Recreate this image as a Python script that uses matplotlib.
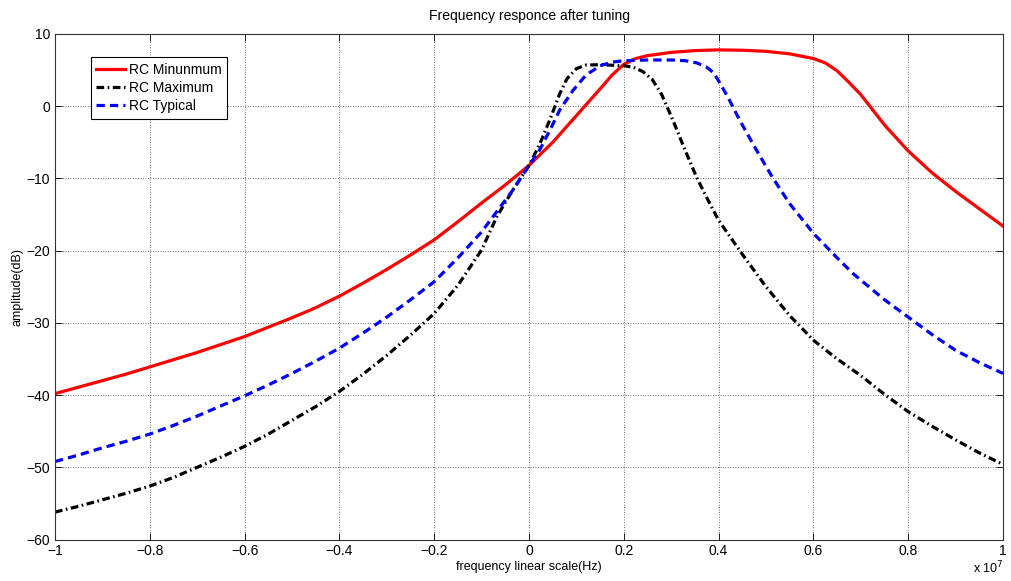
import numpy as np
import matplotlib.pyplot as plt

plt.rcParams['font.family'] = ['Liberation Sans', 'DejaVu Sans']

# frequency in units of 1e7 Hz, amplitude in dB
freq_min = [-1.0, -0.95, -0.9, -0.85, -0.8, -0.75, -0.7, -0.65, -0.6, -0.55, -0.5, -0.45,
            -0.4, -0.35, -0.3, -0.25, -0.2, -0.15, -0.1, -0.05, 0.0, 0.05, 0.1, 0.15,
            0.175, 0.2, 0.225, 0.25, 0.3, 0.35, 0.4, 0.45, 0.5, 0.55, 0.6, 0.625,
            0.65, 0.675, 0.7, 0.75, 0.8, 0.85, 0.9, 0.95, 1.0]
amp_min = [-39.8, -38.9, -38.0, -37.1, -36.1, -35.1, -34.1, -33.0, -31.9, -30.6, -29.3, -27.9,
           -26.3, -24.5, -22.6, -20.6, -18.5, -16.0, -13.4, -10.9, -8.2, -5.0, -1.3, 2.4,
           4.3, 5.8, 6.6, 7.0, 7.45, 7.7, 7.8, 7.75, 7.6, 7.25, 6.6, 6.0,
           4.9, 3.3, 1.6, -2.6, -6.2, -9.2, -11.8, -14.2, -16.6]

freq_max = [-1.0, -0.95, -0.9, -0.85, -0.8, -0.75, -0.7, -0.65, -0.6, -0.55, -0.5, -0.45,
            -0.4, -0.35, -0.3, -0.25, -0.2, -0.15, -0.1, -0.068, -0.034, 0.0, 0.023, 0.045,
            0.065, 0.08, 0.1, 0.12, 0.15, 0.2, 0.22, 0.24, 0.26, 0.28, 0.304, 0.33,
            0.354, 0.38, 0.4, 0.45, 0.5, 0.55, 0.6, 0.65, 0.7, 0.75, 0.8, 0.85,
            0.9, 0.95, 1.0]
amp_max = [-56.2, -55.4, -54.5, -53.6, -52.6, -51.4, -50.0, -48.6, -47.1, -45.4, -43.5, -41.6,
           -39.5, -37.1, -34.5, -31.7, -28.7, -24.8, -19.9, -15.3, -11.6, -8.2, -5.2, -1.7,
           1.75, 3.8, 5.2, 5.7, 5.75, 5.6, 5.4, 4.8, 3.7, 1.6, -2.0, -6.2,
           -9.9, -13.3, -15.8, -20.5, -25.0, -29.0, -32.4, -35.0, -37.3, -39.9, -42.3, -44.3,
           -46.2, -48.0, -49.6]

freq_typ = [-1.0, -0.95, -0.9, -0.85, -0.8, -0.75, -0.7, -0.65, -0.6, -0.55, -0.5, -0.45,
            -0.4, -0.35, -0.3, -0.25, -0.2, -0.15, -0.1, -0.068, -0.034, 0.0, 0.023, 0.045,
            0.065, 0.093, 0.12, 0.15, 0.175, 0.2, 0.25, 0.3, 0.33, 0.354, 0.375, 0.39,
            0.4, 0.42, 0.445, 0.48, 0.515, 0.55, 0.6, 0.65, 0.684, 0.75, 0.8, 0.85,
            0.9, 0.95, 1.0]
amp_typ = [-49.2, -48.3, -47.3, -46.4, -45.4, -44.2, -42.9, -41.5, -40.1, -38.6, -37.0, -35.3,
           -33.5, -31.4, -29.2, -26.8, -24.3, -21.0, -17.4, -14.6, -11.6, -8.2, -6.0, -3.2,
           -0.5, 2.2, 4.3, 5.6, 6.1, 6.3, 6.4, 6.4, 6.3, 6.0, 5.4, 4.6,
           3.5, 1.2, -2.0, -6.1, -10.0, -13.5, -17.6, -21.0, -23.2, -26.8, -29.2, -31.6,
           -33.8, -35.5, -37.0]

fig = plt.figure(figsize=(10.11, 5.81), dpi=100)
ax = fig.add_axes([0.0544, 0.0714, 0.9377, 0.8701])

ax.plot(freq_min, amp_min, color='red', lw=2.3, ls='-', label='RC Minunmum')
ax.plot(freq_max, amp_max, color='black', lw=2.3, dashes=(2.4, 1.1, 0.5, 1.1),
        label='RC Maximum')
ax.plot(freq_typ, amp_typ, color='blue', lw=2.3, dashes=(2.6, 1.6), label='RC Typical')

ax.set_xlim(-1, 1)
ax.set_ylim(-60, 10)
ax.set_xticks(np.arange(-1, 1.01, 0.2))
ax.set_xticklabels(['\u22121', '\u22120.8', '\u22120.6', '\u22120.4', '\u22120.2', '0',
                    '0.2', '0.4', '0.6', '0.8', '1'])
ax.set_yticks(np.arange(-60, 11, 10))
ax.grid(True, color='#444444', ls=(0, (1, 2)), lw=0.6)
ax.tick_params(direction='in', top=True, right=True, labelsize=10, length=5, width=0.6)
for s in ax.spines.values():
    s.set_linewidth(0.8)
    s.set_color('#333333')

ax.set_title('Frequency responce after tuning', fontsize=10, pad=10)
ax.set_xlabel('frequency linear scale(Hz)', fontsize=9, labelpad=2)
ax.set_ylabel('amplitude(dB)', fontsize=9, labelpad=2)
fig.text(0.962, 0.008, r'x 10$^{7}$', fontsize=9, ha='left', va='bottom')

leg = ax.legend(loc='upper left', bbox_to_anchor=(0.0377, 0.954), borderaxespad=0,
                fancybox=False, edgecolor='black', fontsize=10, handlelength=2.1,
                handletextpad=0.25, borderpad=0.4, labelspacing=0.3, framealpha=1)
leg.get_frame().set_linewidth(0.8)

fig.savefig('out.png', dpi=100)
